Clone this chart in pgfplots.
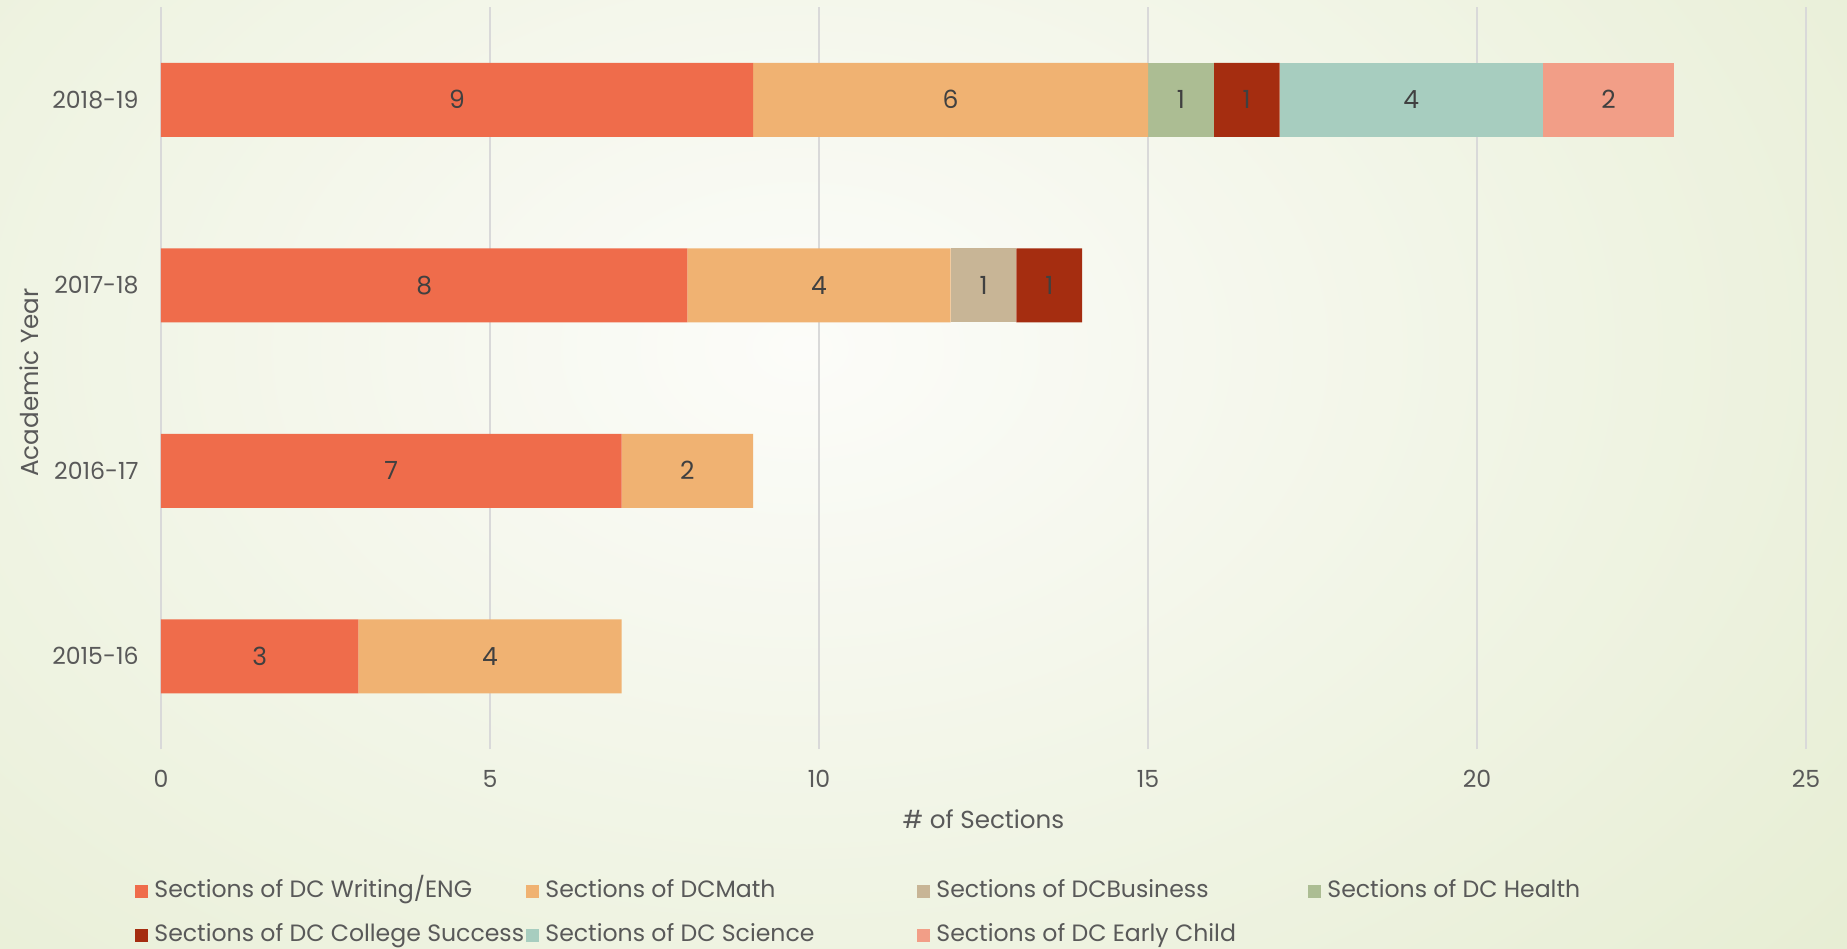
\documentclass[border=0pt]{standalone}
\usepackage{pgfplots}
\pgfplotsset{compat=1.18}
\usepackage{fontspec}
\setmainfont{Poppins}
\definecolor{cW}{HTML}{EF6C4B}
\definecolor{cM}{HTML}{F0B272}
\definecolor{cB}{HTML}{C8B596}
\definecolor{cH}{HTML}{ACBD93}
\definecolor{cCS}{HTML}{A52D10}
\definecolor{cSci}{HTML}{A7CDBF}
\definecolor{cEC}{HTML}{F29E87}
\definecolor{txt}{HTML}{595959}
\definecolor{lbl}{HTML}{404040}
\definecolor{gridc}{HTML}{D9D9D9}
\definecolor{bgout}{HTML}{D8E4BA}
\definecolor{bgin}{HTML}{FCFCF9}
\pgfplotsset{
  legbox/.style={legend image code/.code={\fill[##1] (0pt,-3.3pt) rectangle (6.5pt,3.3pt);}},
  commonax/.style={
    at={(80.5pt,99.5pt)}, anchor=south west, scale only axis,
    width=822.5pt, height=371pt,
    xmin=0, xmax=25, ymin=-0.5, ymax=3.5,
  }
}
\begin{document}
\begin{tikzpicture}
\useasboundingbox (0,0) rectangle (923.5pt,474pt);
\begin{scope}
\clip (0,0) rectangle (923.5pt,474pt);
\shade[inner color=bgin, outer color=bgout] (400pt,300pt) ellipse (1150pt and 800pt);
\end{scope}
\begin{axis}[commonax,
  xbar stacked, bar width=37pt,
  xtick={0,5,10,15,20,25},
  ytick={0,1,2,3},
  yticklabels={2015-16,2016-17,2017-18,2018-19},
  /pgf/number format/assume math mode=true,
  major tick length=0pt,
  axis line style={draw=none},
  xmajorgrids, grid style={color=gridc, line width=0.8pt},
  tick label style={font=\fontsize{11.8}{14}\selectfont, text=txt, inner sep=0pt},
  xticklabel style={anchor=center, yshift=-15pt},
  yticklabel style={anchor=east, xshift=-11pt},
  label style={font=\fontsize{12.3}{15}\selectfont, text=txt},
  xlabel={\# of Sections},
  ylabel={Academic Year},
  xlabel style={at={(axis description cs:0.5,-0.0943)}, anchor=center},
  ylabel style={at={(axis description cs:-0.0802,0.494)}, anchor=center},
  legend columns=4,
  legend style={draw=none, fill=none, inner sep=0pt,
    at={(axis description cs:-0.0158,-0.176)}, anchor=north west,
    font=\fontsize{11.8}{14}\selectfont, text=txt,
    nodes={inner sep=0pt, text height=9pt, text depth=2.5pt},
    row sep=10.5pt,
    /tikz/every odd column/.style={column sep=3pt},
  },
  legend cell align=left,
]
\addplot[fill=cW, draw=none, legbox] coordinates {(3,0) (7,1) (8,2) (9,3)};
\addlegendentry{\makebox[186pt][l]{Sections of DC Writing/ENG}}
\addplot[fill=cM, draw=none, legbox] coordinates {(4,0) (2,1) (4,2) (6,3)};
\addlegendentry{\makebox[186pt][l]{Sections of DCMath}}
\addplot[fill=cB, draw=none, legbox] coordinates {(0,0) (0,1) (1,2) (0,3)};
\addlegendentry{\makebox[186pt][l]{Sections of DCBusiness}}
\addplot[fill=cH, draw=none, legbox] coordinates {(0,0) (0,1) (0,2) (1,3)};
\addlegendentry{\makebox[186pt][l]{Sections of DC Health}}
\addplot[fill=cCS, draw=none, legbox] coordinates {(0,0) (0,1) (1,2) (1,3)};
\addlegendentry{\makebox[186pt][l]{Sections of DC College Success}}
\addplot[fill=cSci, draw=none, legbox] coordinates {(0,0) (0,1) (0,2) (4,3)};
\addlegendentry{\makebox[186pt][l]{Sections of DC Science}}
\addplot[fill=cEC, draw=none, legbox] coordinates {(0,0) (0,1) (0,2) (2,3)};
\addlegendentry{\makebox[186pt][l]{Sections of DC Early Child}}
\end{axis}
\begin{axis}[commonax, hide axis]
\addplot[draw=none, mark=none, nodes near coords, nodes near coords align=center,
  point meta=explicit symbolic,
  every node near coord/.append style={font=\fontsize{12.5}{15}\selectfont, text=lbl, inner sep=0pt}]
coordinates {
  (1.5,0)[3] (5,0)[4]
  (3.5,1)[7] (8,1)[2]
  (4,2)[8] (10,2)[4] (12.5,2)[1] (13.5,2)[1]
  (4.5,3)[9] (12,3)[6] (15.5,3)[1] (16.5,3)[1] (19,3)[4] (22,3)[2]
};
\end{axis}
\end{tikzpicture}
\end{document}
